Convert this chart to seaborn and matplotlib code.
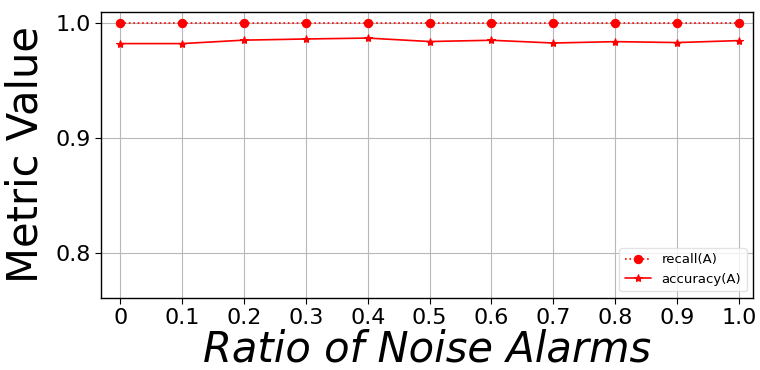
import matplotlib
matplotlib.use("Agg")
import matplotlib.pyplot as plt
import seaborn as sns
import pandas as pd

ratios = [0, 0.1, 0.2, 0.3, 0.4, 0.5, 0.6, 0.7, 0.8, 0.9, 1.0]
tick_labels = ["0", "0.1", "0.2", "0.3", "0.4", "0.5", "0.6", "0.7", "0.8", "0.9", "1.0"]
recall_a = [1.0, 1.0, 1.0, 1.0, 1.0, 1.0, 1.0, 1.0, 1.0, 1.0, 1.0]
accuracy_a = [0.982, 0.982, 0.985, 0.986, 0.9868, 0.9838, 0.9849, 0.9825, 0.9837, 0.9829, 0.9846]

df = pd.DataFrame({"ratio": ratios, "recall": recall_a, "accuracy": accuracy_a})

sns.set_style("whitegrid")
plt.rcParams["font.family"] = ["DejaVu Sans"]
plt.rcParams["text.color"] = "black"
plt.rcParams["axes.labelcolor"] = "black"
plt.rcParams["xtick.color"] = "black"
plt.rcParams["ytick.color"] = "black"

fig = plt.figure(figsize=(7.6, 3.7), dpi=100)
ax = fig.add_axes([0.133, 0.195, 0.858, 0.773])

sns.lineplot(data=df, x="ratio", y="recall", ax=ax, color="red", linestyle=":",
             marker="o", markersize=6, markeredgecolor="red", linewidth=1.2,
             label="recall(A)")
sns.lineplot(data=df, x="ratio", y="accuracy", ax=ax, color="red", linestyle="-",
             marker="*", markersize=6, markeredgecolor="red", linewidth=1.2,
             label="accuracy(A)")

ax.set_xlim(-0.031, 1.023)
ax.set_ylim(0.761, 1.0096)
ax.set_xticks(ratios)
ax.set_xticklabels(tick_labels)
ax.set_yticks([0.8, 0.9, 1.0])
ax.tick_params(axis="both", labelsize=16, length=4, color="black", left=True, bottom=True)
ax.grid(True, color="#b8b8b8", linewidth=0.8)
for s in ax.spines.values():
    s.set_color("black")
    s.set_linewidth(1.0)

ax.set_xlabel("Ratio of Noise Alarms", fontsize=30, style="italic", labelpad=0)
ax.set_ylabel("Metric Value", fontsize=30, labelpad=6)
leg = ax.legend(loc="lower right", fontsize=9.5, frameon=True)
leg.get_frame().set_edgecolor("#dddddd")

fig.savefig("out.png", dpi=100)
